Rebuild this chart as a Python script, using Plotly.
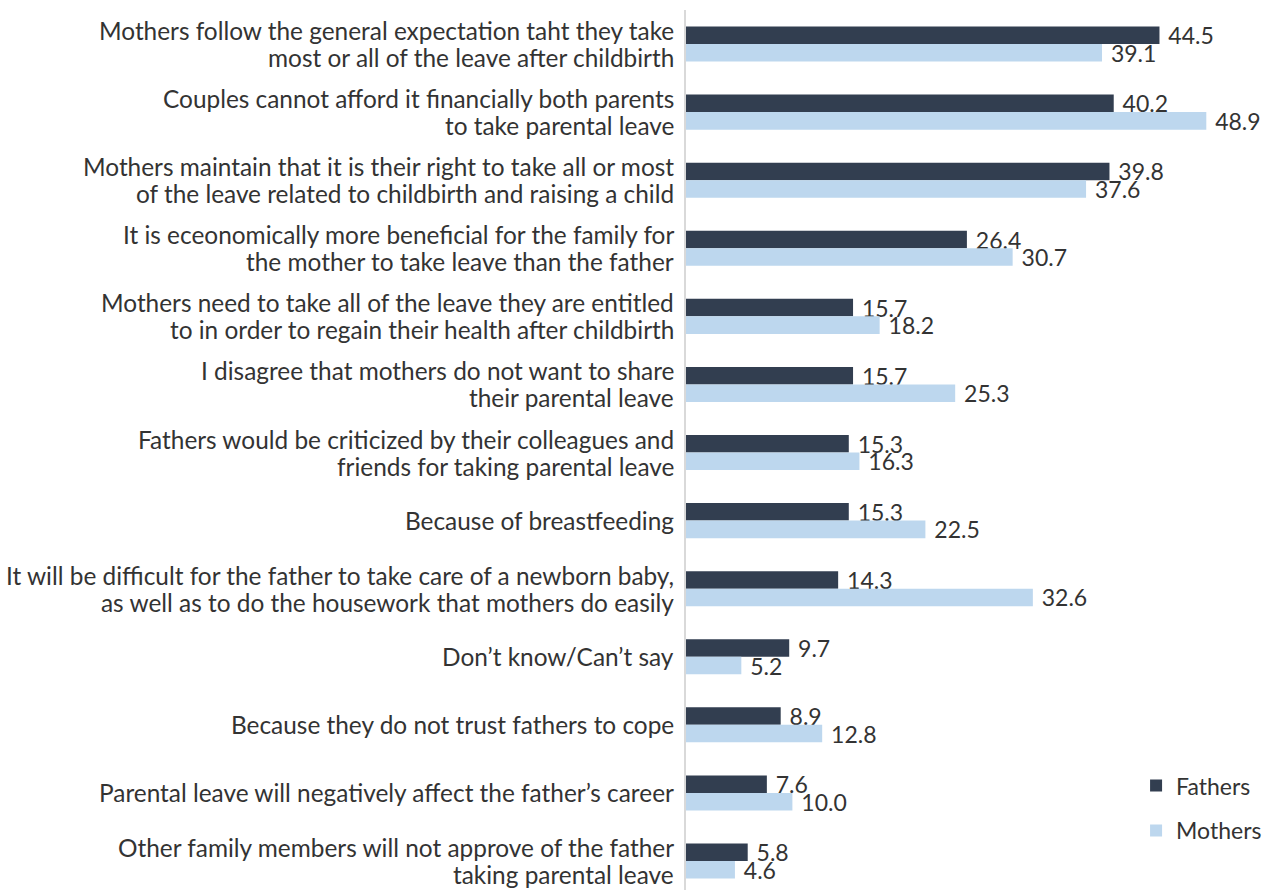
import plotly.graph_objects as go

# Reasons why mothers take most of the parental leave (%)
reasons = [
    "Mothers follow the general expectation taht they take<br>most or all of the leave after childbirth",
    "Couples cannot afford it financially both parents<br>to take parental leave",
    "Mothers maintain that it is their right to take all or most<br>of the leave related to childbirth and raising a child",
    "It is eceonomically more beneficial for the family for<br>the mother to take leave than the father",
    "Mothers need to take all of the leave they are entitled<br>to in order to regain their health after childbirth",
    "I disagree that mothers do not want to share<br>their parental leave",
    "Fathers would be criticized by their colleagues and<br>friends for taking parental leave",
    "Because of breastfeeding",
    "It will be difficult for the father to take care of a newborn baby,<br>as well as to do the housework that mothers do easily",
    "Don’t know/Can’t say",
    "Because they do not trust fathers to cope",
    "Parental leave will negatively affect the father’s career",
    "Other family members will not approve of the father<br>taking parental leave",
]
fathers = [44.5, 40.2, 39.8, 26.4, 15.7, 15.7, 15.3, 15.3, 14.3, 9.7, 8.9, 7.6, 5.8]
mothers = [39.1, 48.9, 37.6, 30.7, 18.2, 25.3, 16.3, 22.5, 32.6, 5.2, 12.8, 10.0, 4.6]

FATHER_COLOR = "#323e50"
MOTHER_COLOR = "#bdd7ee"
TEXT_COLOR = "#333333"
FONT = "Lato, 'Open Sans', sans-serif"
LABEL_SIZE = 24.4
LINE_STEP = 27  # px between wrapped label lines

fig = go.Figure()
for name, vals, color in [("Fathers", fathers, FATHER_COLOR), ("Mothers", mothers, MOTHER_COLOR)]:
    fig.add_trace(go.Bar(
        name=name,
        y=reasons,
        x=vals,
        orientation="h",
        marker=dict(color=color, line=dict(width=0)),
        text=[f"\u00a0{v:.1f}" for v in vals],
        textposition="outside",
        constraintext="none",
        cliponaxis=False,
        textfont=dict(size=23, color=TEXT_COLOR, family=FONT),
        legendgroup=name,
    ))

# Category labels: one annotation per wrapped line so the line spacing stays tight
annotations = []
for cat in reasons:
    lines = cat.split("<br>")
    k = len(lines)
    for j, line in enumerate(lines):
        annotations.append(dict(
            x=0, xref="paper", y=cat, yref="y",
            text=line, showarrow=False,
            xanchor="right", yanchor="middle",
            xshift=-10, yshift=((k - 1) / 2 - j) * LINE_STEP,
            font=dict(size=LABEL_SIZE, color=TEXT_COLOR, family=FONT),
        ))

n = len(reasons)
fig.update_layout(
    width=1270,
    height=890,
    margin=dict(l=686, r=52, t=10, b=0),
    barmode="group",
    bargap=0.485,
    bargroupgap=0,
    plot_bgcolor="white",
    paper_bgcolor="white",
    font=dict(family=FONT, size=20, color=TEXT_COLOR),
    legend=dict(
        x=0.846, xanchor="left", y=0.143, yanchor="top",
        font=dict(size=23, color=TEXT_COLOR, family=FONT),
        tracegroupgap=12,
        bgcolor="rgba(0,0,0,0)",
    ),
    showlegend=True,
    annotations=annotations,
)
fig.update_xaxes(range=[0, 50], visible=False)
fig.update_yaxes(
    categoryorder="array",
    categoryarray=reasons,
    range=[n - 1 + 0.426, -0.5],
    showline=True,
    linecolor="#d9d9d9",
    linewidth=1.5,
    showgrid=False,
    ticks="",
    showticklabels=False,
)

fig.write_html("out.html")
